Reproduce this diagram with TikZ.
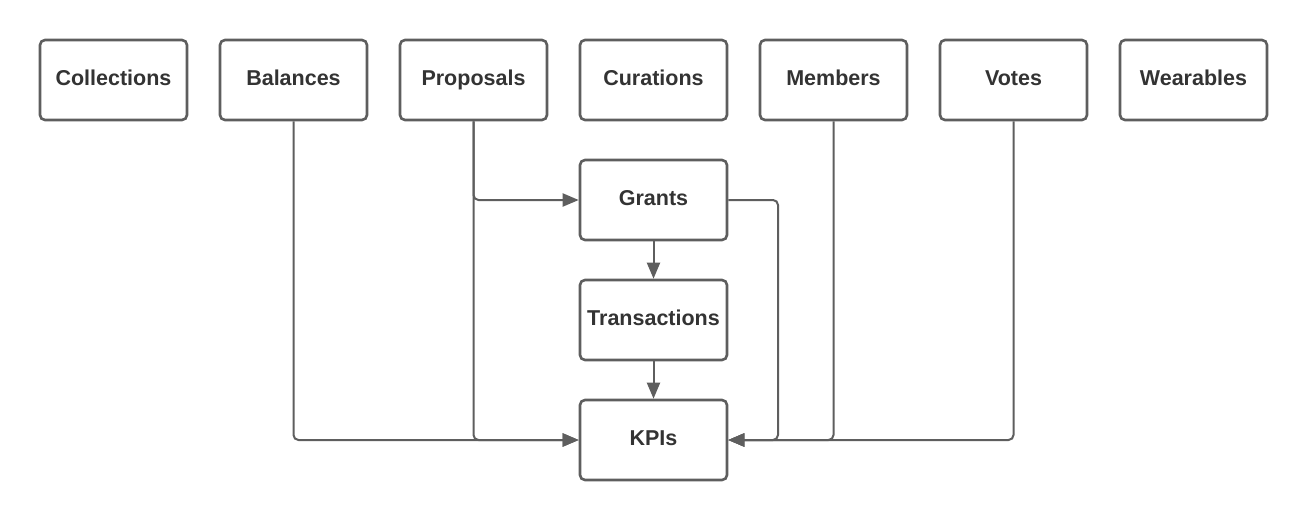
\documentclass[tikz,border=0pt]{standalone}
\usepackage{fontspec}
\setmainfont{Liberation Sans}
\usetikzlibrary{arrows.meta}
\definecolor{lineg}{HTML}{5E5E5E}
\definecolor{textg}{HTML}{333333}
\tikzset{
  box/.style={draw=lineg, line width=2.6pt, rounded corners=5pt, minimum width=147pt, minimum height=80pt,
    inner sep=0pt, text height=15pt, text depth=5pt, text=textg, font=\fontsize{21.5}{26}\selectfont\bfseries, fill=white},
  conn/.style={draw=lineg, line width=2pt, rounded corners=5pt, -{Triangle[length=16pt,width=13pt]}},
}
\begin{document}
\begin{tikzpicture}[x=1pt,y=-1pt]
\useasboundingbox[fill=white] (0,0) rectangle (1307,520);
\node[box] (coll) at (113.5,80) {Collections};
\node[box] (bal) at (293.5,80) {Balances};
\node[box] (prop) at (473.5,80) {Proposals};
\node[box] (cur) at (653.5,80) {Curations};
\node[box] (mem) at (833.5,80) {Members};
\node[box] (vot) at (1013.5,80) {Votes};
\node[box] (wear) at (1193.5,80) {Wearables};
\node[box] (gra) at (653.5,200) {Grants};
\node[box] (tra) at (653.5,320) {Transactions};
\node[box] (kpi) at (653.5,440) {KPIs};
\coordinate (gr) at (778,200);
\draw[conn] (bal.south) |- (kpi.west);
\draw[conn] (prop.south) |- (kpi.west);
\draw[conn] (prop.south) |- (gra.west);
\draw[conn] (gra.east) -- (gr) |- (kpi.east);
\draw[conn] (mem.south) |- (kpi.east);
\draw[conn] (vot.south) |- (kpi.east);
\draw[conn] (gra.south) -- (tra.north);
\draw[conn] (tra.south) -- (kpi.north);
\end{tikzpicture}
\end{document}
